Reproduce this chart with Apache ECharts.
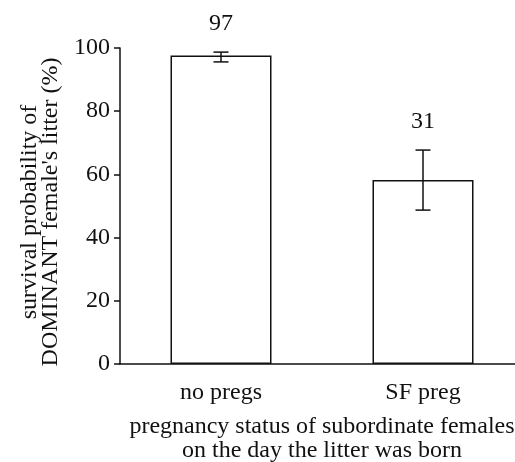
<!DOCTYPE html>
<html>
<head>
<meta charset="utf-8">
<script src="https://cdn.jsdelivr.net/npm/echarts@6/dist/echarts.min.js"></script>
<style>
html, body { margin: 0; padding: 0; background: #fff; }
#chart { width: 515px; height: 462px; }
</style>
</head>
<body>
<div id="chart"></div>
<script>
var categories = ['no pregs', 'SF preg'];
var survival = [97.6, 58.2];
var errLow = [95.6, 48.7];
var errHigh = [98.7, 67.7];
var sampleSizes = ['97', '31'];
var yTicks = { min: 0, max: 100, interval: 20 };

(function(){
	var chart = echarts.init(document.getElementById('chart'));
	var font = "'Liberation Serif', 'Times New Roman', serif";
	var ink = '#111';

	var errData = categories.map(function(c, i){
		return [i, errLow[i], errHigh[i], sampleSizes[i]];
	});

	var option = {
		animation: false,
		textStyle: { fontFamily: font, color: ink },
		grid: { left: 120, top: 48, height: 316, width: 404, containLabel: false, outerBoundsMode: 'none' },
		xAxis: {
			type: 'category',
			data: categories,
			name: 'pregnancy status of subordinate females\non the day the litter was born',
			nameLocation: 'middle',
			nameGap: 51,
			nameTextStyle: { fontFamily: font, fontSize: 24, color: ink, lineHeight: 24, verticalAlign: 'top' },
			axisLine: { lineStyle: { color: ink, width: 1.5 } },
			axisTick: { length: 8, lineStyle: { color: ink, width: 1.5 } },
			axisLabel: { fontFamily: font, fontSize: 24, color: ink, margin: 17 }
		},
		yAxis: {
			type: 'value',
			min: yTicks.min,
			max: yTicks.max,
			interval: yTicks.interval,
			name: "survival probability of\nDOMINANT female's litter (%)",
			nameLocation: 'middle',
			nameGap: 58,
			nameTextStyle: { fontFamily: font, fontSize: 24, color: ink, lineHeight: 21, padding: [0, 12, 0, 0] },
			splitLine: { show: false },
			axisLine: { show: true, lineStyle: { color: ink, width: 1.5 } },
			axisTick: { show: true, length: 6, lineStyle: { color: ink, width: 1.5 } },
			axisLabel: { fontFamily: font, fontSize: 24, color: ink, margin: 10 }
		},
		series: [
			{
				type: 'bar',
				data: survival,
				barWidth: '50%',
				itemStyle: { color: '#fff', borderColor: ink, borderWidth: 1.5 }
			},
			{
				type: 'custom',
				data: errData,
				z: 10,
				renderItem: function(params, api){
					var lo = api.coord([api.value(0), api.value(1)]);
					var hi = api.coord([api.value(0), api.value(2)]);
					var cap = 7.5;
					var st = { stroke: ink, lineWidth: 1.5 };
					return {
						type: 'group',
						children: [
							{ type: 'line', shape: { x1: hi[0], y1: hi[1], x2: lo[0], y2: lo[1] }, style: st },
							{ type: 'line', shape: { x1: hi[0] - cap, y1: hi[1], x2: hi[0] + cap, y2: hi[1] }, style: st },
							{ type: 'line', shape: { x1: lo[0] - cap, y1: lo[1], x2: lo[0] + cap, y2: lo[1] }, style: st },
							{ type: 'text', x: hi[0], y: hi[1] - 16, style: {
								text: sampleSizes[params.dataIndex], fontFamily: font, fontSize: 24, fill: ink,
								align: 'center', verticalAlign: 'bottom' } }
						]
					};
				}
			}
		]
	};

	chart.setOption(option);
})();
</script>
</body>
</html>
